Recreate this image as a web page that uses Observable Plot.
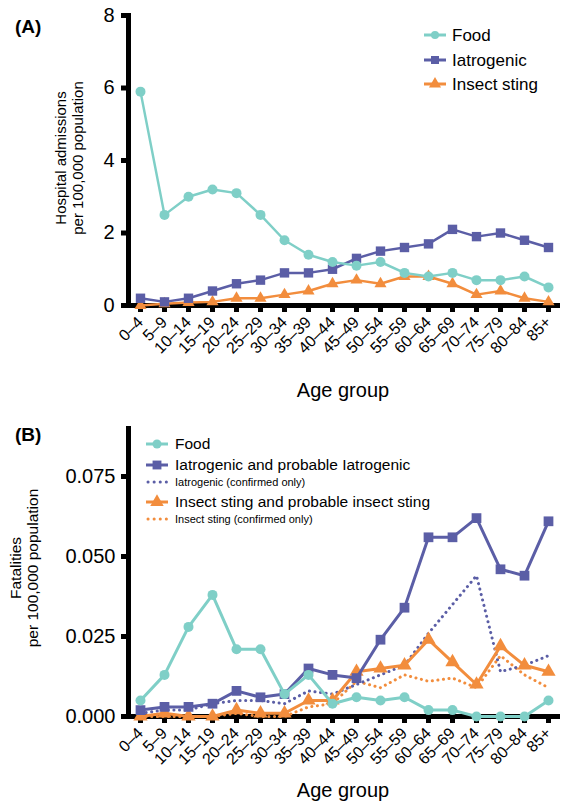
<!DOCTYPE html>
<html>
<head>
<meta charset="utf-8">
<script src="https://cdn.jsdelivr.net/npm/d3@7"></script>
<script src="https://cdn.jsdelivr.net/npm/@observablehq/plot@0.6"></script>
<style>
  html, body { margin: 0; padding: 0; background: #fff; }
  #wrap { width: 562px; height: 805px; position: relative; overflow: hidden; }
  #wrap svg { display: block; }
</style>
</head>
<body>
<div id="wrap"></div>
<script>
// ---------- data ----------
const ageGroups = ["0–4","5–9","10–14","15–19","20–24","25–29","30–34","35–39","40–44","45–49","50–54","55–59","60–64","65–69","70–74","75–79","80–84","85+"];

// Panel A: hospital admissions per 100,000 population
const admFood   = [5.9,2.5,3.0,3.2,3.1,2.5,1.8,1.4,1.2,1.1,1.2,0.9,0.8,0.9,0.7,0.7,0.8,0.5];
const admIatro  = [0.2,0.1,0.2,0.4,0.6,0.7,0.9,0.9,1.0,1.3,1.5,1.6,1.7,2.1,1.9,2.0,1.8,1.6];
const admInsect = [0,0.05,0.08,0.1,0.2,0.2,0.3,0.4,0.6,0.7,0.6,0.8,0.8,0.6,0.3,0.4,0.2,0.1];
const admTicks  = [0,2,4,6,8];

// Panel B: fatalities per 100,000 population
const fatFood        = [0.005,0.013,0.028,0.038,0.021,0.021,0.007,0.013,0.004,0.006,0.005,0.006,0.002,0.002,0,0,0,0.005];
const fatIatro       = [0.002,0.003,0.003,0.004,0.008,0.006,0.007,0.015,0.013,0.012,0.024,0.034,0.056,0.056,0.062,0.046,0.044,0.061];
const fatIatroConf   = [0.001,0.002,0.002,0.004,0.005,0.005,0.004,0.008,0.007,0.010,0.013,0.016,0.026,0.035,0.044,0.014,0.016,0.019];
const fatInsect      = [0,0.001,0,0,0.002,0.001,0.001,0.005,0.005,0.014,0.015,0.016,0.024,0.017,0.010,0.022,0.016,0.014];
const fatInsectConf  = [0,0,0,0,0.001,0,0,0.003,0.004,0.011,0.009,0.013,0.011,0.012,0.009,0.019,0.013,0.009];
const fatTicks       = [0,0.025,0.05,0.075];

const legendA = ["Food","Iatrogenic","Insect sting"];
const legendB = ["Food","Iatrogenic and probable Iatrogenic","Iatrogenic (confirmed only)","Insect sting and probable insect sting","Insect sting (confirmed only)"];

// ---------- style ----------
const TEAL = "#7fcfc7", BLUE = "#5b5ea6", ORANGE = "#f28d3d";
const FONT = "'Liberation Sans', Arial, Helvetica, sans-serif";
const AX = 5;

function toRows(vals) { return vals.map((v, i) => ({age: ageGroups[i], v})); }

function seriesMarks(vals, color, symbol, opts = {}) {
  const rows = toRows(vals);
  const lw = opts.lw ?? 2.5;
  const r = opts.r ?? 5;
  return [
    Plot.line(rows, {x: "age", y: "v", stroke: color, strokeWidth: lw, curve: "linear"}),
    Plot.dot(rows, {x: "age", y: "v", fill: color, stroke: "none", symbol, r})
  ];
}
function dottedMarks(vals, color) {
  return Plot.line(toRows(vals), {x: "age", y: "v", stroke: color, strokeWidth: 3, strokeDasharray: "0.1,5.5", strokeLinecap: "round"});
}

const wrap = document.getElementById("wrap");

// ---------- Panel A ----------
const chartA = Plot.plot({
  width: 562, height: 400,
  marginLeft: 128, marginRight: 2, marginTop: 15, marginBottom: 95,
  style: {fontFamily: FONT, color: "#000", background: "#fff", overflow: "visible"},
  x: {type: "point", domain: ageGroups, padding: 0.45, label: null},
  y: {domain: [0, 8], label: null},
  marks: [
    Plot.axisY({ticks: admTicks, tickSize: 7, tickPadding: 7, fontSize: 20, strokeWidth: AX, label: null}),
    Plot.axisX({tickRotate: -45, tickSize: 7, tickPadding: 7, fontSize: 16, strokeWidth: AX, label: null}),
    Plot.frame({anchor: "left", strokeWidth: AX, stroke: "#000"}),
    Plot.ruleY([0], {strokeWidth: AX, stroke: "#000"}),
    ...seriesMarks(admInsect, ORANGE, "triangle", {r: 4.5}),
    ...seriesMarks(admIatro, BLUE, "square", {r: 5.3}),
    ...seriesMarks(admFood, TEAL, "circle", {r: 5})
  ]
});
wrap.appendChild(chartA);

// ---------- Panel B ----------
const chartB = Plot.plot({
  width: 562, height: 405,
  marginLeft: 128, marginRight: 2, marginTop: 28, marginBottom: 89,
  style: {fontFamily: FONT, color: "#000", background: "#fff", overflow: "visible"},
  x: {type: "point", domain: ageGroups, padding: 0.45, label: null},
  y: {domain: [0, 0.09], label: null},
  marks: [
    Plot.axisY({ticks: fatTicks, tickFormat: d3.format(".3f"), tickSize: 7, tickPadding: 6, fontSize: 20, strokeWidth: AX, label: null}),
    Plot.axisX({tickRotate: -45, tickSize: 7, tickPadding: 7, fontSize: 16, strokeWidth: AX, label: null}),
    Plot.frame({anchor: "left", strokeWidth: AX, stroke: "#000"}),
    Plot.ruleY([0], {strokeWidth: AX, stroke: "#000"}),
    dottedMarks(fatInsectConf, ORANGE),
    dottedMarks(fatIatroConf, BLUE),
    ...seriesMarks(fatInsect, ORANGE, "triangle", {r: 5.3, lw: 3}),
    ...seriesMarks(fatIatro, BLUE, "square", {r: 5.5, lw: 3}),
    ...seriesMarks(fatFood, TEAL, "circle", {r: 5, lw: 3})
  ]
});
wrap.appendChild(chartB);

// ---------- annotations ----------
function annotate(svgNode, cfg) {
  const svg = d3.select(svgNode);
  const g = svg.append("g").attr("font-family", FONT).attr("fill", "#000").attr("text-anchor", "start");
  // panel letter
  g.append("text").attr("x", 15).attr("y", cfg.letterY).attr("font-size", 19).attr("font-weight", "bold")
    .attr("text-anchor", "start").text(cfg.letter);
  // y title (two lines, rotated)
  const t = g.append("text").attr("text-anchor", "middle").attr("font-size", cfg.yFont)
    .attr("transform", `translate(${cfg.yX},${cfg.yY}) rotate(-90)`);
  cfg.yTitle.forEach((s, i) => t.append("tspan").attr("x", 0).attr("dy", i === 0 ? 0 : cfg.yFont * 1.1).text(s));
  // x title
  g.append("text").attr("x", 343).attr("y", cfg.xTitleY).attr("text-anchor", "middle").attr("font-size", 20).text("Age group");
  // legend
  cfg.legend.forEach((item, i) => {
    const y = cfg.legY[i];
    const lg = g.append("g");
    if (item.dotted) {
      lg.append("line").attr("x1", cfg.legX0 + 2).attr("x2", cfg.legX1).attr("y1", y).attr("y2", y)
        .attr("stroke", item.color).attr("stroke-width", 3).attr("stroke-dasharray", "0.1,6").attr("stroke-linecap", "round");
    } else {
      lg.append("line").attr("x1", cfg.legX0).attr("x2", cfg.legX1).attr("y1", y).attr("y2", y)
        .attr("stroke", item.color).attr("stroke-width", 3);
      const sym = d3.symbol().type(item.symbol).size(Math.PI * item.r * item.r);
      lg.append("path").attr("d", sym()).attr("fill", item.color)
        .attr("transform", `translate(${(cfg.legX0 + cfg.legX1) / 2},${y})`);
    }
    lg.append("text").attr("x", cfg.legText).attr("y", y).attr("dy", "0.35em").attr("text-anchor", "start")
      .attr("font-size", item.small ? cfg.smallFont : cfg.legFont).text(item.label);
  });
}

annotate(chartA, {
  letter: "(A)", letterY: 33,
  yTitle: ["Hospital admissions", "per 100,000 population"], yFont: 15, yX: 66, yY: 158,
  xTitleY: 397,
  legX0: 424, legX1: 446, legText: 452, legFont: 17, smallFont: 11,
  legY: [35, 60, 84],
  legend: [
    {label: legendA[0], color: TEAL, symbol: d3.symbolCircle, r: 4},
    {label: legendA[1], color: BLUE, symbol: d3.symbolSquare, r: 4.5},
    {label: legendA[2], color: ORANGE, symbol: d3.symbolTriangle, r: 4.5}
  ]
});

annotate(chartB, {
  letter: "(B)", letterY: 41,
  yTitle: ["Fatalities", "per 100,000 population"], yFont: 15.5, yX: 21, yY: 168,
  xTitleY: 397,
  legX0: 146, legX1: 168, legText: 175, legFont: 15.5, smallFont: 11,
  legY: [44, 65, 82, 102, 119],
  legend: [
    {label: legendB[0], color: TEAL, symbol: d3.symbolCircle, r: 4.5},
    {label: legendB[1], color: BLUE, symbol: d3.symbolSquare, r: 5},
    {label: legendB[2], color: BLUE, dotted: true, small: true},
    {label: legendB[3], color: ORANGE, symbol: d3.symbolTriangle, r: 5},
    {label: legendB[4], color: ORANGE, dotted: true, small: true}
  ]
});
</script>
</body>
</html>
